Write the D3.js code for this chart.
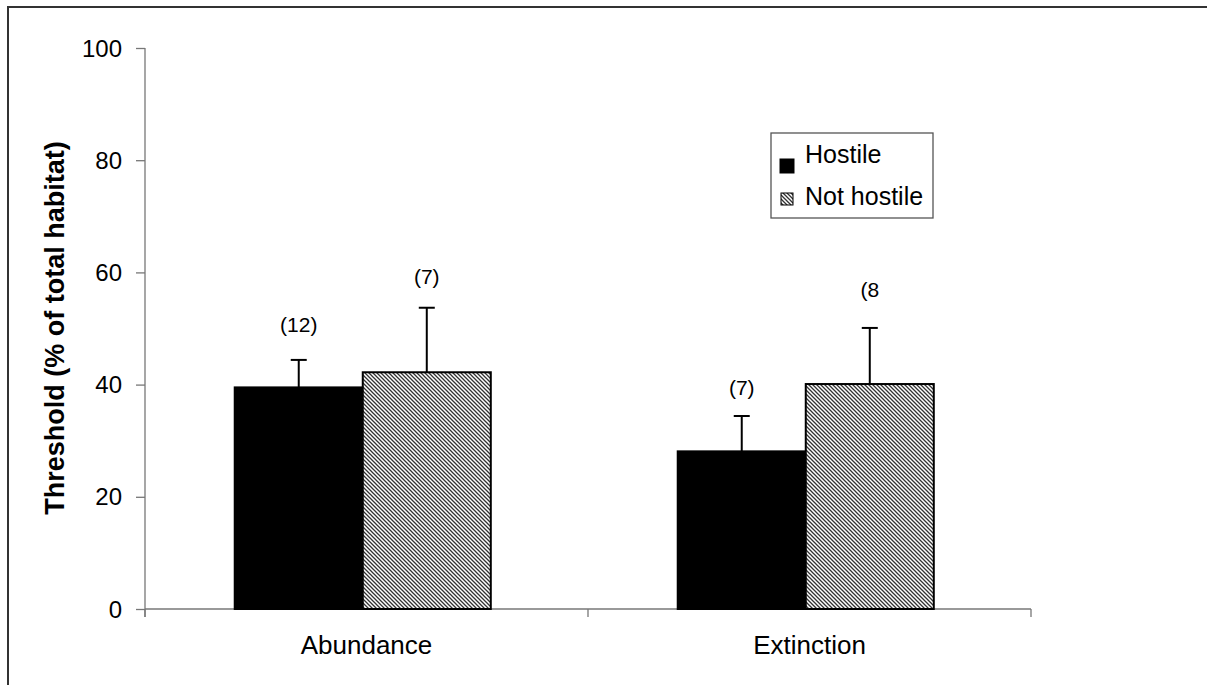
<!DOCTYPE html>
<html>
<head>
<meta charset="utf-8">
<script src="https://cdn.jsdelivr.net/npm/d3@7"></script>
<style>
  body { margin: 0; background: #fff; }
  text { font-family: Arial, "Liberation Sans", sans-serif; }
</style>
</head>
<body>
<div id="chart"></div>
<script>
// Threshold bar chart with error bars, hostile vs not hostile matrix

const categories = ['Abundance', 'Extinction'];
const seriesNames = ['Hostile', 'Not hostile'];
const hostile = [39.5, 28.1];
const hostileErr = [4.9, 6.3];
const notHostile = [42.2, 40.1];
const notHostileErr = [11.5, 10.0];
// sample sizes and where they sit (in axis units)
const hostileN = ['(12)', '(7)'];
const hostileNPos = [50.6, 39.4];
const notHostileN = ['(7)', '(8'];
const notHostileNPos = [59.2, 56.9];
const yTicks = [0, 20, 40, 60, 80, 100];

function render() {
    const width = 1207, height = 685;
    const svg = d3.select('#chart').append('svg')
        .attr('width', width)
        .attr('height', height);

    // hatch pattern
    const defs = svg.append('defs');
    const pat = defs.append('pattern')
        .attr('id', 'hatch')
        .attr('patternUnits', 'userSpaceOnUse')
        .attr('width', 4)
        .attr('height', 4);
    pat.append('rect').attr('width', 4).attr('height', 4).attr('fill', '#fff');
    pat.append('path')
        .attr('d', 'M-1,-1 L5,5 M-1,3 L1,5 M3,-1 L5,1')
        .attr('stroke', '#333')
        .attr('stroke-width', 1.3);

    // outer frame
    svg.append('rect')
        .attr('x', 8).attr('y', 7)
        .attr('width', 1220).attr('height', 700)
        .attr('fill', 'none')
        .attr('stroke', '#333')
        .attr('stroke-width', 2);

    const left = 145, right = 1031, top = 48, bottom = 609;

    const y = d3.scaleLinear().domain([0, 100]).range([bottom, top]);
    const x0 = d3.scaleBand().domain(categories).range([left, right]);
    const x1 = d3.scaleBand().domain(seriesNames)
        .range([0, x0.bandwidth()])
        .paddingInner(0)
        .paddingOuter(0.73)
        .align(0.48);

    // Y axis
    const yAxis = svg.append('g')
        .attr('transform', `translate(${left},0)`)
        .call(d3.axisLeft(y).tickValues(yTicks).tickSize(9).tickPadding(14).tickSizeOuter(0));
    yAxis.select('.domain').attr('stroke', '#777').attr('stroke-width', 1.3)
        .attr('d', `M0,${top}V${bottom + 8}`);
    yAxis.selectAll('.tick line').attr('stroke', '#777').attr('stroke-width', 1.3);
    yAxis.selectAll('.tick text')
        .style('font-size', '24px')
        .attr('dy', '0.34em')
        .attr('fill', '#000');

    // X axis
    svg.append('line')
        .attr('x1', left).attr('x2', right)
        .attr('y1', bottom).attr('y2', bottom)
        .attr('stroke', '#777').attr('stroke-width', 1.3);
    const xTickPos = categories.map(c => x0(c)).concat([right]);
    xTickPos.forEach(px => {
        svg.append('line')
            .attr('x1', px).attr('x2', px)
            .attr('y1', bottom).attr('y2', bottom + 8)
            .attr('stroke', '#777').attr('stroke-width', 1.3);
    });
    categories.forEach(c => {
        svg.append('text')
            .attr('x', x0(c) + x0.bandwidth() / 2)
            .attr('y', bottom + 45)
            .attr('text-anchor', 'middle')
            .style('font-size', '26px')
            .text(c);
    });

    // Y title
    svg.append('text')
        .attr('transform', `translate(55,328) rotate(-90)`)
        .attr('text-anchor', 'middle')
        .attr('dy', '0.35em')
        .style('font-size', '27px')
        .style('font-weight', 'bold')
        .text('Threshold (% of total habitat)');

    const series = [
        { name: 'Hostile', vals: hostile, err: hostileErr, n: hostileN, nPos: hostileNPos, fill: '#000' },
        { name: 'Not hostile', vals: notHostile, err: notHostileErr, n: notHostileN, nPos: notHostileNPos, fill: 'url(#hatch)' }
    ];

    series.forEach(s => {
        categories.forEach((c, i) => {
            const bx = x0(c) + x1(s.name);
            const bw = x1.bandwidth();
            const cx = bx + bw / 2;
            // error bar
            svg.append('line')
                .attr('x1', cx).attr('x2', cx)
                .attr('y1', y(s.vals[i])).attr('y2', y(s.vals[i] + s.err[i]))
                .attr('stroke', '#000').attr('stroke-width', 2);
            svg.append('line')
                .attr('x1', cx - 8).attr('x2', cx + 8)
                .attr('y1', y(s.vals[i] + s.err[i])).attr('y2', y(s.vals[i] + s.err[i]))
                .attr('stroke', '#000').attr('stroke-width', 2);
            // bar
            svg.append('rect')
                .attr('x', bx).attr('y', y(s.vals[i]))
                .attr('width', bw).attr('height', y(0) - y(s.vals[i]))
                .attr('fill', s.fill)
                .attr('stroke', '#000')
                .attr('stroke-width', 2);
            // n label
            svg.append('text')
                .attr('x', cx)
                .attr('y', y(s.nPos[i]))
                .attr('dy', '0.35em')
                .attr('text-anchor', 'middle')
                .style('font-size', '21px')
                .text(s.n[i]);
        });
    });

    // Legend
    const lg = svg.append('g').attr('transform', 'translate(771,133)');
    lg.append('rect')
        .attr('width', 162).attr('height', 85)
        .attr('fill', '#fff')
        .attr('stroke', '#555')
        .attr('stroke-width', 1.3);
    series.forEach((s, i) => {
        const sy = i === 0 ? 26 : 60;
        lg.append('rect')
            .attr('x', i === 0 ? 9 : 10).attr('y', sy)
            .attr('width', i === 0 ? 14 : 12).attr('height', i === 0 ? 14 : 12)
            .attr('fill', s.fill)
            .attr('stroke', '#000')
            .attr('stroke-width', 1);
        lg.append('text')
            .attr('x', 34)
            .attr('y', i === 0 ? 30 : 72)
            .style('font-size', '25px')
            .text(s.name);
    });
}

render();
</script>
</body>
</html>
